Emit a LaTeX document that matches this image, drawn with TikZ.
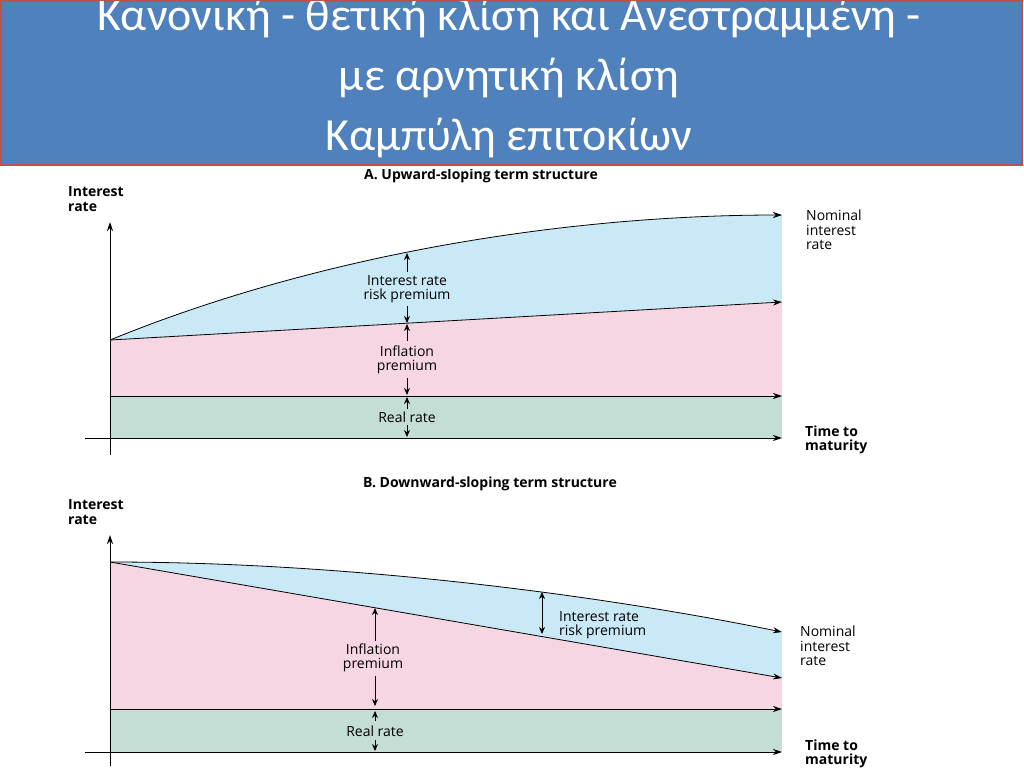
\documentclass[tikz,border=0pt]{standalone}
\usepackage{fontspec}
\setmainfont{Open Sans}
\newfontfamily\titlefont{Carlito}
\usetikzlibrary{arrows.meta}
\definecolor{banner}{HTML}{4F81BD}
\definecolor{bord}{HTML}{C0504D}
\definecolor{pinkf}{HTML}{F7D6E4}
\definecolor{bluef}{HTML}{C8E9F5}
\definecolor{greenf}{HTML}{C4DDD5}
\tikzset{
 ax/.style={line width=1pt,-{Stealth[length=9pt,width=6pt]}},
 ln/.style={line width=0.8pt,-{Stealth[length=9pt,width=6pt]}},
 dim/.style={line width=0.8pt,-{Stealth[length=7pt,width=6pt]}},
 lbl/.style={font=\fontsize{14}{14.5}\selectfont, align=left, inner sep=0pt},
 bl/.style={font=\bfseries\fontsize{14}{14.5}\selectfont, align=left, inner sep=0pt},
}
\begin{document}
\begin{tikzpicture}[x=1pt,y=-1pt]
\useasboundingbox (0,0) rectangle (1024,768);
\fill[white] (0,0) rectangle (1024,768);
% Panel A
\fill[greenf] (110,396) rectangle (782,438);
\fill[pinkf] (110,340) -- (782,302) -- (782,396) -- (110,396) -- cycle;
\fill[bluef] (110,340) .. controls (330,250) and (580,215) .. (782,215) -- (782,302) -- cycle;
\draw[ln] (110,340) .. controls (330,250) and (580,215) .. (782,215);
\draw[ln] (110,340) -- (782,302);
\draw[ln] (110,396) -- (782,396);
\draw[ax] (85,438) -- (782,438);
\draw[ax] (110,455) -- (110,222);
\node[bl] (ya) at (68,199) [anchor=west] {Interest\\rate};
\node[bl] (ta) at (481,176) {A. Upward-sloping term structure};
\node[lbl,anchor=west] (na) at (806,230) {Nominal\\interest\\rate};
\node[bl,anchor=west] (xa) at (805,440) {Time to\\maturity};
\node[lbl,align=center] (ra) at (407,289) {Interest rate\\risk premium};
\node[lbl,align=center] (ia) at (407,360) {Inflation\\premium};
\node[lbl] (rra) at (407,417) {Real rate};
\draw[dim] (407,272) -- (407,253);
\draw[dim] (407,306) -- (407,323);
\draw[dim] (407,341) -- (407,324);
\draw[dim] (407,378) -- (407,395);
\draw[dim] (407,409) -- (407,397);
\draw[dim] (407,425) -- (407,437);
% Panel B
\fill[greenf] (110,709) rectangle (782,752);
\fill[pinkf] (110,562) -- (782,678) -- (782,709) -- (110,709) -- cycle;
\fill[bluef] (110,562) .. controls (350,562) and (600,595) .. (782,632) -- (782,678) -- cycle;
\draw[ln] (110,562) .. controls (350,562) and (600,595) .. (782,632);
\draw[ln] (110,562) -- (782,678);
\draw[ln] (110,709) -- (782,709);
\draw[ax] (85,752) -- (782,752);
\draw[ax] (110,766) -- (110,535);
\node[bl] (yb) at (68,512) [anchor=west] {Interest\\rate};
\node[bl] (tb) at (490,484) {B. Downward-sloping term structure};
\node[lbl,anchor=west] (nb) at (800,646) {Nominal\\interest\\rate};
\node[bl,anchor=west] (xb) at (805,754) {Time to\\maturity};
\node[lbl,anchor=west] (rb) at (559,625) {Interest rate\\risk premium};
\node[lbl,align=center] (ib) at (373,658) {Inflation\\premium};
\node[lbl] (rrb) at (375,731) {Real rate};
\draw[dim] (542,612) -- (542,592);
\draw[dim] (542,612) -- (542,634);
\draw[dim] (375,641) -- (375,608);
\draw[dim] (375,676) -- (375,706);
\draw[dim] (375,721) -- (375,711);
\draw[dim] (375,740) -- (375,751);
% Banner
\fill[white] (68,163) rectangle (908,169);
\draw[bord,fill=banner,line width=2pt] (1,1) rectangle (1022,165);
\begin{scope}
\clip (2,2) rectangle (1021,164);
\node[text=white,font=\titlefont\fontsize{46}{60}\selectfont,align=center] (title) at (509,78)
 {Κανονική - θετική κλίση και Ανεστραμμένη -\\με αρνητική κλίση\\Καμπύλη επιτοκίων};
\end{scope}
\end{tikzpicture}
\end{document}
